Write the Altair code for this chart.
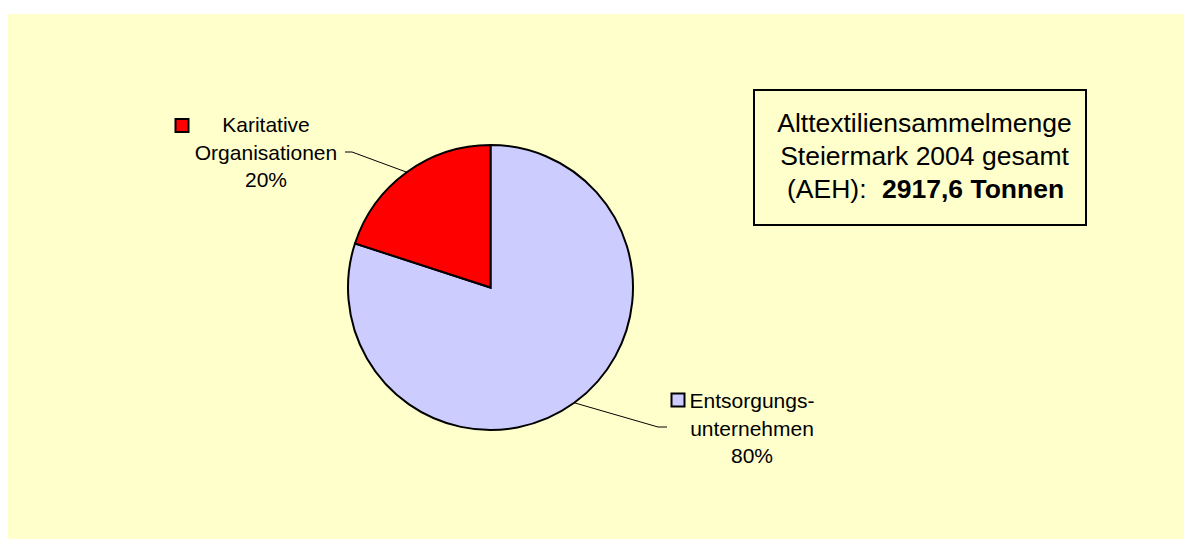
import math
import altair as alt
import pandas as pd

# Shares of the collected textile volume by collector type
categories = ["Entsorgungsunternehmen", "Karitative Organisationen"]
label_lines = ["Entsorgungs-\nunternehmen", "Karitative\nOrganisationen"]
shares = [80, 20]
colors = ["#CCCCFF", "#FF0000"]

box_lines = ["Alttextiliensammelmenge", "Steiermark 2004 gesamt"]
box_prefix = "(AEH):"
box_total = "2917,6 Tonnen"

# ---- layout (pixels) ----
W, H = 1184, 541
CX, CY, R = 490.5, 287.5, 142.5
BG = "#FFFFCC"
FONT = "Liberation Sans"

# per category: label centre x, first baseline y, key square centre, leader elbow, leader end
layout = {
    "Entsorgungsunternehmen": dict(lx=752, ly=408, kx=678, ky=400, ex=658, ey=427, tx=667, ty=427),
    "Karitative Organisationen": dict(lx=266, ly=132, kx=182, ky=125.5, ex=352, ey=152, tx=345, ty=152),
}

pie_df = pd.DataFrame({"cat": categories, "share": shares, "idx": range(len(categories))})
pie_df["label"] = [f"{l}\n{s}%" for l, s in zip(label_lines, shares)]

color_scale = alt.Scale(domain=categories, range=colors)

# leader lines start at the middle of each slice on the rim
total = sum(shares)
rows, lab_rows = [], []
acc = 0.0
for cat, s, lbl in zip(categories, shares, pie_df["label"]):
    mid = (acc + s / 2) / total * 2 * math.pi
    acc += s
    p = layout[cat]
    sx, sy = CX + R * math.sin(mid), CY - R * math.cos(mid)
    for k, (x, y) in enumerate([(sx, sy), (p["ex"], p["ey"]), (p["tx"], p["ty"])]):
        rows.append({"cat": cat, "step": k, "x": x, "y": y})
    lab_rows.append({"cat": cat, "label": lbl, "lx": p["lx"], "ly": p["ly"], "kx": p["kx"], "ky": p["ky"]})
lead_df = pd.DataFrame(rows)
lab_df = pd.DataFrame(lab_rows)

one = alt.Data(values=[{}])

background = alt.Chart(one).mark_rect(fill=BG).encode(
    x=alt.value(8), x2=alt.value(W), y=alt.value(14), y2=alt.value(539)
)

pie = alt.Chart(pie_df).mark_arc(
    outerRadius=R, stroke="black", strokeWidth=2
).encode(
    theta=alt.Theta("share:Q", stack=True),
    order=alt.Order("idx:Q"),
    color=alt.Color("cat:N", scale=color_scale, legend=None),
    x=alt.value(CX),
    y=alt.value(CY),
)

leaders = alt.Chart(lead_df).mark_line(color="black", strokeWidth=1).encode(
    x=alt.X("x:Q", scale=None),
    y=alt.Y("y:Q", scale=None),
    detail="cat:N",
    order="step:Q",
)

labels = alt.Chart(lab_df).mark_text(
    font=FONT, fontSize=21, align="center", baseline="alphabetic",
    lineBreak="\n", lineHeight=27.5, color="black"
).encode(
    x=alt.X("lx:Q", scale=None),
    y=alt.Y("ly:Q", scale=None),
    text="label:N",
)

keys = alt.Chart(lab_df).mark_square(
    size=169, stroke="black", strokeWidth=2, opacity=1
).encode(
    x=alt.X("kx:Q", scale=None),
    y=alt.Y("ky:Q", scale=None),
    color=alt.Color("cat:N", scale=color_scale, legend=None),
)

box = alt.Chart(one).mark_rect(fill=BG, stroke="black", strokeWidth=2).encode(
    x=alt.value(754), x2=alt.value(1086), y=alt.value(90), y2=alt.value(225)
)

box_df = pd.DataFrame({"t": box_lines, "y": [132, 165]})
box_text = alt.Chart(box_df).mark_text(
    font=FONT, fontSize=26.5, align="center", baseline="alphabetic", color="black"
).encode(
    x=alt.value(924.5), y=alt.Y("y:Q", scale=None), text="t:N"
)

box_pre = alt.Chart(one).mark_text(
    font=FONT, fontSize=26.5, align="left", baseline="alphabetic", color="black"
).encode(x=alt.value(787), y=alt.value(198), text=alt.value(box_prefix))

box_tot = alt.Chart(one).mark_text(
    font=FONT, fontSize=26.5, fontWeight="bold", align="left", baseline="alphabetic", color="black"
).encode(x=alt.value(882), y=alt.value(198), text=alt.value(box_total))

chart = alt.layer(
    background, pie, leaders, keys, labels, box, box_text, box_pre, box_tot
).properties(
    width=W, height=H, background="white", padding=0, autosize="none"
).configure_view(stroke=None)

chart.save("out.html", embed_options={"renderer": "svg", "actions": False})
